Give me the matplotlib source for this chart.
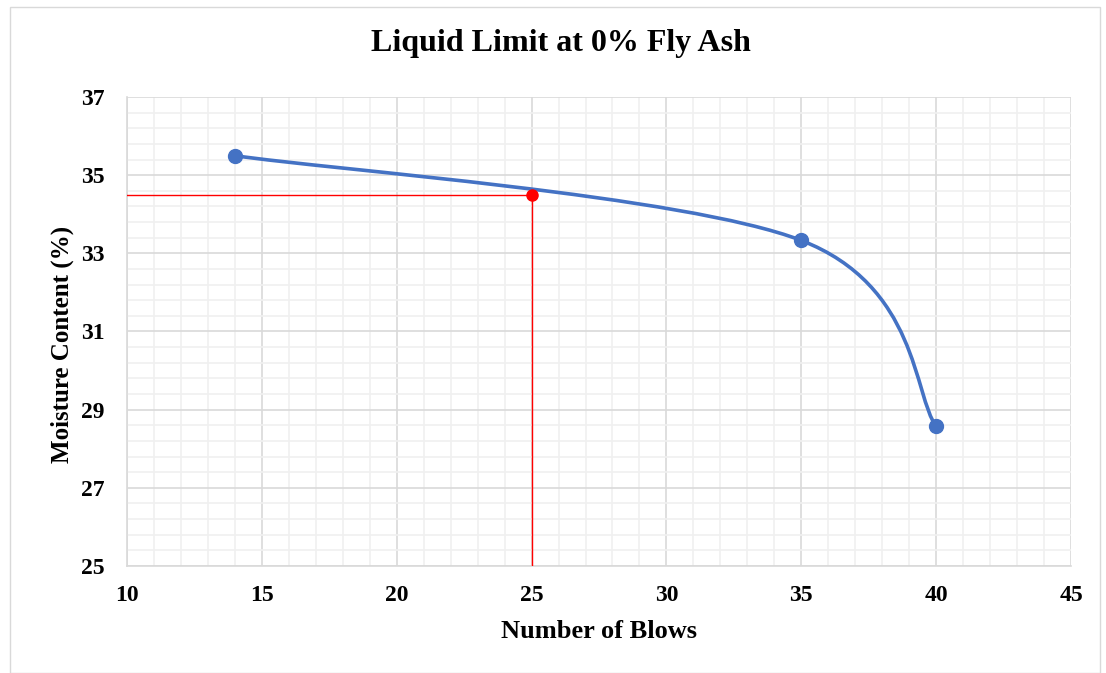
import numpy as np
import matplotlib.pyplot as plt
from matplotlib.patches import Rectangle
from matplotlib.path import Path
from matplotlib.patches import PathPatch

plt.rcParams['font.family'] = ['Liberation Serif', 'DejaVu Serif']

# data
blows = [14, 35, 40]
moisture = [35.5, 33.33, 28.57]
ll_blows = 25
ll_moisture = 34.5


def excel_smooth_path(xs, ys, tension=1/6):
    # cubic bezier through the points, like Excel's smoothed line
    pts = np.column_stack([xs, ys]).astype(float)
    n = len(pts)
    verts = [pts[0]]
    codes = [Path.MOVETO]
    for i in range(n - 1):
        p0 = pts[i - 1] if i > 0 else pts[i]
        p1 = pts[i]
        p2 = pts[i + 1]
        p3 = pts[i + 2] if i + 2 < n else pts[i + 1]
        c1 = p1 + (p2 - p0) * tension
        c2 = p2 - (p3 - p1) * tension
        verts += [c1, c2, p2]
        codes += [Path.CURVE4] * 3
    return Path(verts, codes)


fig = plt.figure(figsize=(11.06, 6.73), dpi=100)
fig.patches.append(Rectangle((10 / 1106, 0), 1090 / 1106, 666 / 673, transform=fig.transFigure,
                             fill=False, edgecolor='#d9d9d9', linewidth=1))
ax = fig.add_axes([127 / 1106, 1 - 566 / 673, 944 / 1106, 469 / 673])

ax.set_xlim(10, 45)
ax.set_ylim(25, 37)
ax.set_xticks(np.arange(10, 46, 5))
ax.set_yticks(np.arange(25, 38, 2))
ax.set_xticks(np.arange(10, 46, 1), minor=True)
ax.set_yticks(np.arange(25, 37.01, 0.4), minor=True)
ax.grid(which='minor', color='#f0f0f0', linewidth=1.2)
ax.grid(which='major', color='#d9d9d9', linewidth=1.2)
ax.set_axisbelow(True)
ax.tick_params(which='both', length=0)
ax.tick_params(axis='x', pad=14)
ax.tick_params(axis='y', pad=16)
for lab in ax.get_xticklabels() + ax.get_yticklabels():
    lab.set_fontweight('bold')
    lab.set_fontsize(17)
for side in ['top', 'right']:
    ax.spines[side].set_visible(False)
for side in ['left', 'bottom']:
    ax.spines[side].set_color('#d9d9d9')
    ax.spines[side].set_linewidth(1.2)

# liquid limit guide lines
ax.plot([10, ll_blows], [ll_moisture, ll_moisture], color='red', linewidth=1, zorder=3)
ax.plot([ll_blows, ll_blows], [25, ll_moisture], color='red', linewidth=1, zorder=3)
ax.plot(ll_blows, ll_moisture, 'o', color='red', markersize=8, zorder=5)

# smoothed series
ax.add_patch(PathPatch(excel_smooth_path(blows, moisture), facecolor='none',
                       edgecolor='#4472c4', linewidth=2.6, zorder=4))
ax.plot(blows, moisture, 'o', color='#4472c4', markersize=10, zorder=5)

ax.set_xlabel('Number of Blows', fontsize=19, fontweight='bold', va='center')
ax.set_ylabel('Moisture Content (%)', fontsize=18, fontweight='bold', va='center')
ax.xaxis.set_label_coords(0.5, -66 / 469)
ax.yaxis.set_label_coords(-65 / 944, 0.473)
fig.text(561 / 1106, 1 - 43 / 673, 'Liquid Limit at 0% Fly Ash', ha='center', va='center',
         fontsize=23, fontweight='bold')

fig.savefig('out.png', dpi=100)
